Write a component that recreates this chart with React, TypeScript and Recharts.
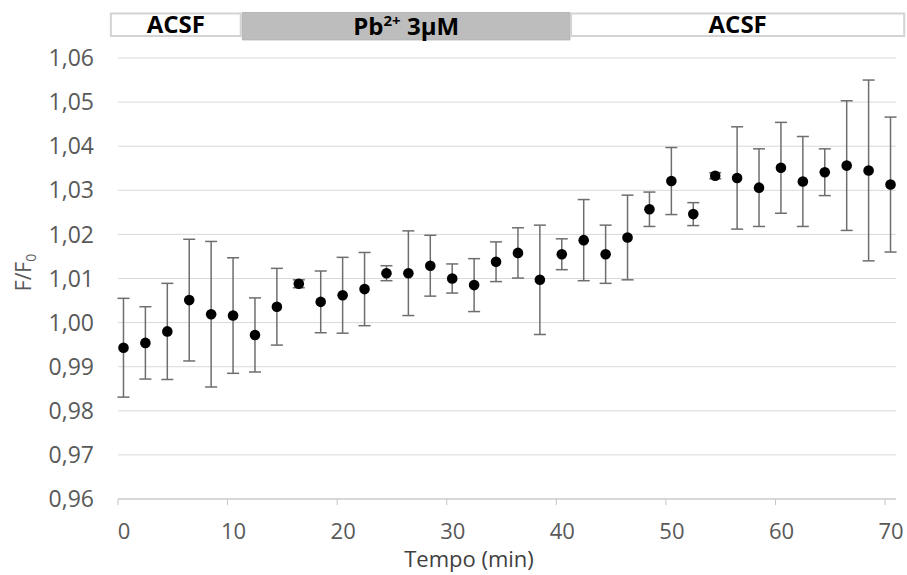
import React from 'react'
import { ScatterChart, Scatter, XAxis, YAxis, CartesianGrid, ErrorBar, ReferenceArea } from 'recharts'

// tempo (min) of each sample
const tempo = [
  0.5, 2.5, 4.5, 6.5, 8.5, 10.5, 12.5, 14.5, 16.5, 18.5, 20.5, 22.5,
  24.5, 26.5, 28.5, 30.5, 32.5, 34.5, 36.5, 38.5, 40.5, 42.5, 44.5, 46.5,
  48.5, 50.5, 52.5, 54.5, 56.5, 58.5, 60.5, 62.5, 64.5, 66.5, 68.5, 70.5,
]

// mean F/F0
const fMedia = [
  0.9943, 0.9954, 0.998, 1.0051, 1.0019, 1.0016, 0.9972, 1.0036, 1.0088, 1.0047, 1.0062, 1.0076,
  1.0112, 1.0112, 1.0129, 1.01, 1.0085, 1.0138, 1.0158, 1.0097, 1.0155, 1.0187, 1.0155, 1.0193,
  1.0257, 1.0321, 1.0246, 1.0333, 1.0328, 1.0306, 1.0351, 1.032, 1.0341, 1.0356, 1.0345, 1.0313,
]

// error (+/-)
const erro = [
  0.0112, 0.0082, 0.0109, 0.0138, 0.0165, 0.0131, 0.0084, 0.0087, 0.0009, 0.007, 0.0086, 0.0083,
  0.0017, 0.0096, 0.0069, 0.0033, 0.006, 0.0045, 0.0057, 0.0124, 0.0035, 0.0092, 0.0066, 0.0096,
  0.0039, 0.0076, 0.0026, 0.0007, 0.0116, 0.0088, 0.0103, 0.0102, 0.0053, 0.0147, 0.0205, 0.0153,
]

const yTicks = [0.96, 0.97, 0.98, 0.99, 1.0, 1.01, 1.02, 1.03, 1.04, 1.05, 1.06]
const xTicks = [0, 10, 20, 30, 40, 50, 60, 70]

// treatment bands above the plot (in minutes)
const fases = ['ACSF', 'Pb', 'ACSF']
const faseInicio = [-0.65, 11.35, 41.35]
const faseFim = [11.2, 41.25, 71.75]

const data = tempo.map((t, i) => ({ t, f: fMedia[i], err: erro[i] }))

const FONT = '"Open Sans", sans-serif'

const faseLabel = (nome: string) => (props: any) => {
  const { x, y, width, height } = props.viewBox
  const cx = x + width / 2
  const cy = y + height / 2
  const common = {
    x: cx,
    y: cy,
    dy: '0.36em',
    textAnchor: 'middle' as const,
    fill: '#000',
    fontFamily: FONT,
    fontWeight: 700,
    fontSize: 24,
  }
  if (nome === 'Pb') {
    return (
      <text {...common}>
        Pb
        <tspan dy={-9} fontSize={15}>2+</tspan>
        <tspan dy={9}> 3µM</tspan>
      </text>
    )
  }
  return <text {...common}>{nome}</text>
}

const Dot = (p: any) => <circle cx={p.cx} cy={p.cy} r={5.3} fill="#000" />

export default function App() {
  return (
    <div style={{ position: 'absolute', left: 0, top: 0, width: 907, height: 575, background: '#fff' }}>
      <ScatterChart width={907} height={575} margin={{ top: 58, right: 11, bottom: 0, left: 0 }}>
        <CartesianGrid vertical={false} stroke="#d9d9d9" />
        {fases.map((nome, i) => (
          <ReferenceArea
            key={i}
            x1={faseInicio[i]}
            x2={faseFim[i]}
            y1={nome === 'Pb' ? 1.0641 : 1.065}
            y2={nome === 'Pb' ? 1.0703 : 1.0701}
            ifOverflow="visible"
            fill={nome === 'Pb' ? '#bdbdbd' : '#fff'}
            fillOpacity={1}
            stroke={nome === 'Pb' ? '#b5b5b5' : '#d3d3d3'}
            strokeWidth={nome === 'Pb' ? 1 : 2}
            label={faseLabel(nome)}
          />
        ))}
        <XAxis
          type="number"
          dataKey="t"
          domain={[0, 71]}
          ticks={xTicks}
          height={76}
          stroke="#c4c4c4"
          tickSize={6}
          tickMargin={18}
          tick={{ fill: '#595959', fontSize: 22, fontFamily: FONT, dx: 6 }}
          label={(props: any) => {
            const vb = props.viewBox
            return (
              <text
                x={vb.x + vb.width / 2 - 38}
                y={vb.y + 67.7}
                textAnchor="middle"
                fill="#404040"
                fontFamily={FONT}
                fontSize={22}
              >
                Tempo (min)
              </text>
            )
          }}
        />
        <YAxis
          type="number"
          dataKey="f"
          domain={[0.96, 1.06]}
          ticks={yTicks}
          width={118}
          axisLine={false}
          tickLine={false}
          tickSize={0}
          tickMargin={24}
          tick={{ fill: '#595959', fontSize: 23, fontFamily: FONT }}
          tickFormatter={(v: number) => v.toFixed(2).replace('.', ',')}
          label={(props: any) => {
            const vb = props.viewBox
            const cy = vb.y + vb.height / 2 - 6
            return (
              <text
                x={31}
                y={cy}
                transform={`rotate(-90, 31, ${cy})`}
                textAnchor="middle"
                fill="#595959"
                fontFamily={FONT}
                fontSize={21}
              >
                F/F
                <tspan dy={5} fontSize={14}>0</tspan>
              </text>
            )
          }}
        />
        <Scatter data={data} shape={Dot} isAnimationActive={false}>
          <ErrorBar dataKey="err" direction="y" width={6} stroke="#6e6e6e" strokeWidth={1.5} isAnimationActive={false} />
        </Scatter>
      </ScatterChart>
    </div>
  )
}
